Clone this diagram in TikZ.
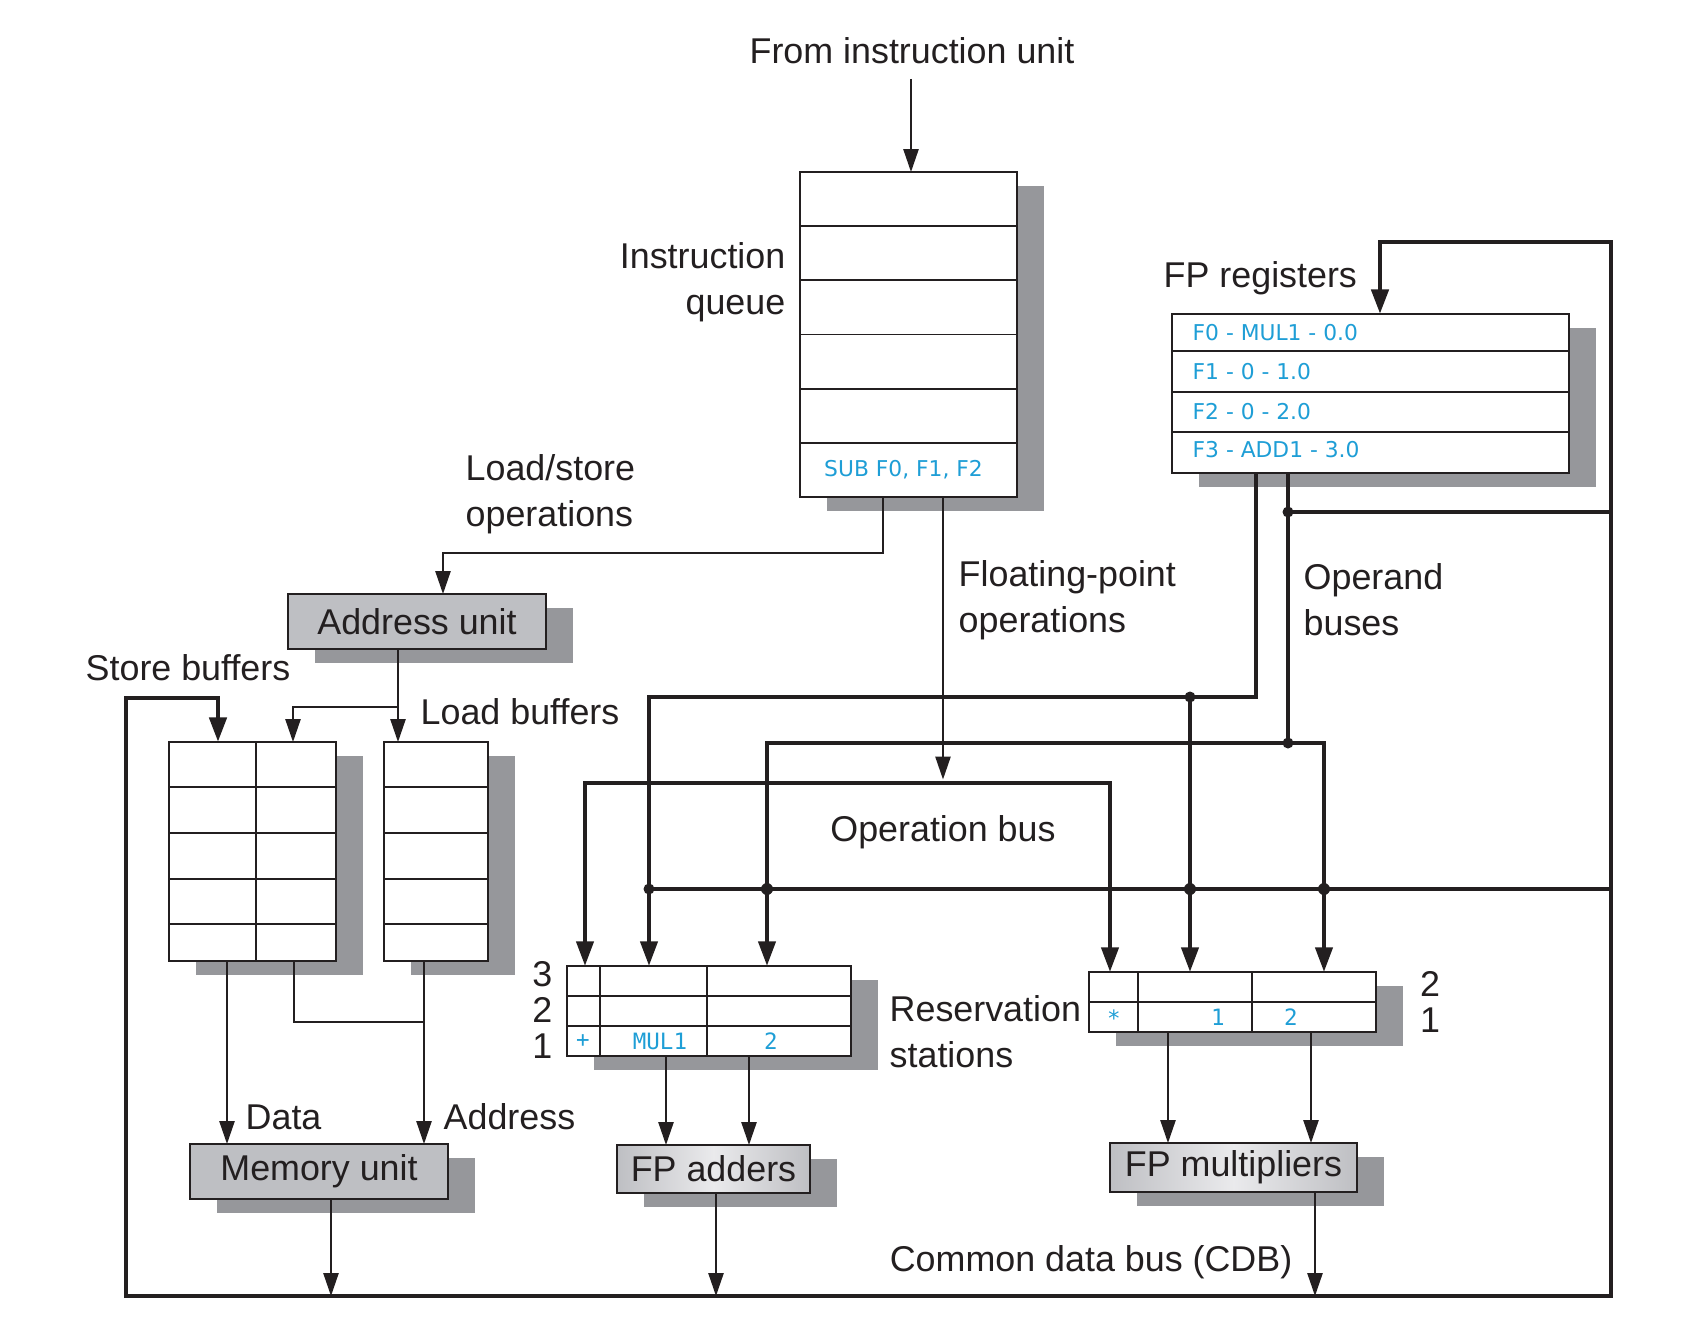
\documentclass[tikz,border=0pt]{standalone}
\usepackage{fontspec}
\setmainfont{Liberation Sans}
\newfontfamily\regfont{DejaVu Sans}
\newfontfamily\cellfont{DejaVu Sans Mono}
\usetikzlibrary{arrows.meta}
\usetikzlibrary{calc,shadows}

\definecolor{ink}{RGB}{35,31,32}
\definecolor{cyanx}{RGB}{30,158,214}
\definecolor{unitgray}{RGB}{190,191,195}
\definecolor{unitlight}{RGB}{234,234,236}
\definecolor{shadegray}{RGB}{150,151,155}

\tikzset{
  lbl/.style={font=\fontsize{10.2}{13}\selectfont, inner sep=0pt, text=ink},
  rownum/.style={font=\fontsize{10.2}{10.3}\selectfont, inner sep=0pt, text=ink},
  regtxt/.style={font=\regfont\fontsize{6.2}{7}\selectfont, text=cyanx, inner sep=0pt},
  celltxt/.style={font=\cellfont\fontsize{6.4}{7}\selectfont, text=cyanx, inner sep=0pt},
  shd/.style={drop shadow={shadow xshift=2.7mm, shadow yshift=-1.35mm, fill=shadegray, opacity=1, draw=none}},
  tbl/.style={draw=ink, line width=0.65pt, fill=white, inner sep=0pt, outer sep=0pt, anchor=north west, shd},
  unit/.style={tbl, fill=unitgray, font=\fontsize{10.2}{13}\selectfont, text=ink},
  fpunit/.style={unit, left color=unitgray, right color=unitgray, middle color=unitlight},
  wire/.style={draw=ink, line width=0.55pt},
  arr/.style={wire, -{Triangle[length=6.5pt,width=4.3pt]}},
  bus/.style={draw=ink, line width=1.25pt},
  busarr/.style={bus, -{Triangle[length=7pt,width=4.8pt]}},
}

\begin{document}
\begin{tikzpicture}[x=0.1mm,y=-0.1mm]
    \useasboundingbox (0,0) rectangle (1706,1332);

    % boxes
    \node[tbl, minimum width=21.7mm, minimum height=32.5mm] (queue) at (800,172) {};
    \node[tbl, minimum width=39.7mm, minimum height=15.9mm] (fpr) at (1172,314) {};
    \node[unit, minimum width=25.8mm, minimum height=5.5mm] (au) at (288,594) {Address unit};
    \node[tbl, minimum width=16.7mm, minimum height=21.9mm] (sb) at (169,742) {};
    \node[tbl, minimum width=10.4mm, minimum height=21.9mm] (lb) at (384,742) {};
    \node[tbl, minimum width=28.4mm, minimum height=9mm] (ars) at (567,966) {};
    \node[tbl, minimum width=28.7mm, minimum height=6mm] (mrs) at (1089,972) {};
    \node[unit, minimum width=25.8mm, minimum height=5.5mm] (mu) at (190,1144) {Memory unit};
    \node[fpunit, minimum width=19.3mm, minimum height=4.8mm] (fa) at (617,1145) {FP adders};
    \node[fpunit, minimum width=24.7mm, minimum height=4.9mm] (fm) at (1110,1143) {FP multipliers};

    % rows and columns
    \foreach \i in {1,...,5}
      \draw[wire] ($(queue.north west)!\i/6!(queue.south west)$) -- ($(queue.north east)!\i/6!(queue.south east)$);
    \foreach \y in {351,392,432}
      \draw[wire] (fpr.west |- 0,\y) -- (fpr.east |- 0,\y);
    \foreach \y in {787,833,879,924} {
      \draw[wire] (sb.west |- 0,\y) -- (sb.east |- 0,\y);
      \draw[wire] (lb.west |- 0,\y) -- (lb.east |- 0,\y);
    }
    \draw[wire] (sb.north -| 256,0) -- (sb.south -| 256,0);
    \foreach \y in {996,1026}
      \draw[wire] (ars.west |- 0,\y) -- (ars.east |- 0,\y);
    \foreach \x in {600,707}
      \draw[wire] (ars.north -| \x,0) -- (ars.south -| \x,0);
    \draw[wire] (mrs.west |- 0,1002) -- (mrs.east |- 0,1002);
    \foreach \x in {1138,1252}
      \draw[wire] (mrs.north -| \x,0) -- (mrs.south -| \x,0);

    % cyan contents
    \node[regtxt] (sub) at ($(queue.south)!0.5/6!(queue.north)+(-5,0)$) {SUB F0, F1, F2};
    \foreach \t/\y [count=\i] in {F0 - MUL1 - 0.0/333, F1 - 0 - 1.0/372, F2 - 0 - 2.0/412, F3 - ADD1 - 3.0/450}
      \node[regtxt, anchor=west] (reg\i) at (1192,\y) {\t};
    \node[celltxt] (aop) at (583,1041) {+};
    \node[celltxt] (aqj) at (660,1041) {MUL1};
    \node[celltxt] (aqk) at (771,1041) {2};
    \node[celltxt] (mop) at (1114,1018) {*};
    \node[celltxt] (mqj) at (1218,1017) {1};
    \node[celltxt] (mqk) at (1291,1017) {2};

    % labels
    \node[lbl] (fiu) at (912,51) {From instruction unit};
    \node[lbl, anchor=east, align=right] (iq) at (786,282) {Instruction\\queue};
    \node[lbl, anchor=west] (fprl) at (1163,278) {FP registers};
    \node[lbl, anchor=west, align=left] (lso) at (465,494) {Load/store\\operations};
    \node[lbl, anchor=west, align=left] (fpo) at (958,600) {Floating-point\\operations};
    \node[lbl, anchor=west, align=left] (opb) at (1303,600) {Operand\\buses};
    \node[lbl, anchor=west] (sbl) at (85,668) {Store buffers};
    \node[lbl, anchor=west] (lbl) at (420,712) {Load buffers};
    \node[lbl] (obl) at (943,832) {Operation bus};
    \node[rownum, anchor=east, align=right] (anum) at (553,1010) {3\\2\\1};
    \node[rownum, align=center] (mnum) at (1430,1002) {2\\1};
    \node[lbl, anchor=west, align=left] (rsl) at (889,1032) {Reservation\\stations};
    \node[lbl, anchor=west] (dl) at (245,1117) {Data};
    \node[lbl, anchor=west] (adl) at (443,1117) {Address};
    \node[lbl, anchor=east] (cdbl) at (1293,1262) {Common data bus (CDB)};

    % junction points
    \coordinate (ls) at (883,553);
    \coordinate (aux) at (443,553);
    \coordinate (fpx) at (943,783);
    \coordinate (aj) at (398,707);
    \coordinate (sj) at (293,707);
    \coordinate (mj) at (424,1022);
    \coordinate (ob1) at (585,783);
    \coordinate (ob2) at (1110,783);
    \coordinate (oa) at (1256,697);
    \coordinate (oal) at (649,697);
    \coordinate (oaj) at (1190,697);
    \coordinate (ob) at (1288,743);
    \coordinate (obl) at (767,743);
    \coordinate (obr) at (1324,743);
    \coordinate (cl) at (126,1296);
    \coordinate (cr) at (1611,1296);
    \coordinate (ct) at (1380,242);
    \coordinate (st) at (218,698);
    \coordinate (cj1) at (1288,512);
    \coordinate (cj2) at (649,889);

    % instruction flow
    \draw[arr, shorten <=4pt] (fiu.south -| 911,0) -- (queue.north -| 911,0);
    \draw[arr] (queue.south -| ls) -- (ls) -- (aux) -- (au.north -| aux);
    \draw[arr, shorten >=1pt] (queue.south -| fpx) -- (fpx);
    \draw[arr] (au.south -| aj) -- (aj) -- (lb.north -| aj);
    \draw[arr] (aj) -- (sj) -- (sb.north -| sj);
    \draw[arr] (sb.south -| 227,0) -- (mu.north -| 227,0);
    \draw[wire] (sb.south -| 294,0) |- (mj);
    \draw[arr] (lb.south -| mj) -- (mu.north -| mj);
    \foreach \x in {666,749}
      \draw[arr] (ars.south -| \x,0) -- (fa.north -| \x,0);
    \foreach \x in {1168,1311}
      \draw[arr] (mrs.south -| \x,0) -- (fm.north -| \x,0);
    \draw[arr] (mu.south -| 331,0) -- (cl -| 331,0);
    \draw[arr] (fa.south -| 716,0) -- (cl -| 716,0);
    \draw[arr] (fm.south -| 1315,0) -- (cl -| 1315,0);

    % operation bus
    \draw[bus, {Triangle[length=7pt,width=4.8pt]}-{Triangle[length=7pt,width=4.8pt]}]
      (ars.north -| ob1) -- (ob1) -- (ob2) -- (mrs.north -| ob2);

    % operand buses
    \draw[busarr] (fpr.south -| oa) -- (oa) -- (oal) -- (ars.north -| oal);
    \draw[busarr] (oaj) -- (mrs.north -| oaj);
    \draw[bus] (fpr.south -| ob) -- (ob);
    \draw[bus, {Triangle[length=7pt,width=4.8pt]}-{Triangle[length=7pt,width=4.8pt]}]
      (ars.north -| obl) -- (obl) -- (obr) -- (mrs.north -| obr);

    % common data bus
    \draw[bus, line width=1.4pt, line join=miter, {Triangle[length=7pt,width=4.8pt]}-{Triangle[length=7pt,width=4.8pt]}]
      (sb.north -| st) -- (st) -| (cl) -- (cr) |- (ct) -- (fpr.north -| ct);
    \draw[bus] (cj1) -- (cj1 -| cr);
    \draw[bus] (cr |- cj2) -- (cj2);

    \foreach \p in {oaj,ob,cj1,cj2}
      \fill[ink] (\p) circle[radius=0.55mm];
    \foreach \x in {767,1190,1324}
      \fill[ink] (\x,889) circle[radius=0.6mm];
\end{tikzpicture}
\end{document}
